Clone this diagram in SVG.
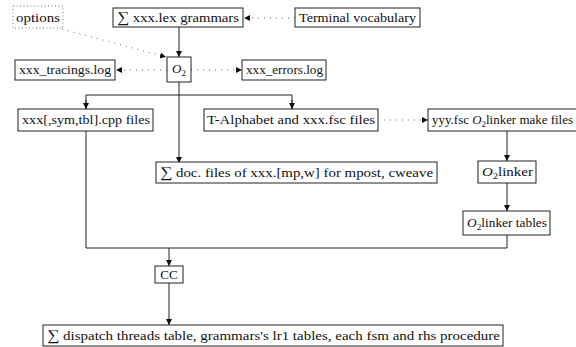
<svg xmlns="http://www.w3.org/2000/svg" width="576" height="347" viewBox="0 0 576 347" font-family="'Liberation Serif', 'DejaVu Serif', 'Noto Serif', Times, serif">
<style>
  text { font-family: 'Liberation Serif', 'DejaVu Serif', 'Noto Serif', Times, serif; font-size: 13px; fill: #111; }
  .box { fill: #fff; stroke: #222; stroke-width: 1; }
  .dbox { fill: none; stroke: #777; stroke-width: 1; stroke-dasharray: 1 2.5; }
  .line { fill: none; stroke: #222; stroke-width: 1; }
  .dot { fill: none; stroke: #666; stroke-width: 1; stroke-dasharray: 1 5; }
  .sig { font-size: 15px; }
</style>
<defs>
  <marker id="ah" viewBox="0 0 6 6" refX="6" refY="3" markerWidth="6" markerHeight="6" markerUnits="userSpaceOnUse" orient="auto">
    <path d="M0,0 L6,3 L0,6 z" fill="#111"/>
  </marker>
</defs>
<rect width="576" height="347" fill="#fff"/>
<g id="connectors">
  <line class="line" x1="179" y1="27" x2="179" y2="57" marker-end="url(#ah)"/>
  <line class="dot" x1="295" y1="18" x2="244" y2="18" marker-end="url(#ah)"/>
  <line class="dot" x1="62" y1="29" x2="166" y2="57" marker-end="url(#ah)"/>
  <line class="dot" x1="167" y1="70" x2="116" y2="70" marker-end="url(#ah)"/>
  <line class="dot" x1="191" y1="70" x2="242" y2="70" marker-end="url(#ah)"/>
  <line class="line" x1="179" y1="82" x2="179" y2="163" marker-end="url(#ah)"/>
  <polyline class="line" points="86,109 86,95 292,95 292,109"/>
  <line class="line" x1="86" y1="100" x2="86" y2="109" marker-end="url(#ah)"/>
  <line class="line" x1="292" y1="100" x2="292" y2="109" marker-end="url(#ah)"/>
  <line class="dot" x1="378" y1="120" x2="428" y2="120" marker-end="url(#ah)"/>
  <line class="line" x1="507" y1="131" x2="507" y2="161" marker-end="url(#ah)"/>
  <line class="line" x1="507" y1="183" x2="507" y2="211" marker-end="url(#ah)"/>
  <polyline class="line" points="86,131 86,248 507,248 507,235"/>
  <line class="line" x1="169" y1="248" x2="169" y2="266" marker-end="url(#ah)"/>
  <line class="line" x1="169" y1="283" x2="169" y2="325" marker-end="url(#ah)"/>
</g>
<g id="options">
  <rect class="dbox" x="13" y="6" width="50" height="22"/>
  <text x="38" y="22" text-anchor="middle" textLength="44" lengthAdjust="spacingAndGlyphs">options</text>
</g>
<g id="grammars">
  <rect class="box" x="113" y="8" width="130" height="19"/>
  <text x="117" y="22" textLength="122" lengthAdjust="spacingAndGlyphs"><tspan class="sig">∑</tspan> xxx.lex grammars</text>
</g>
<g id="terminal">
  <rect class="box" x="295" y="8" width="125" height="19"/>
  <text x="299" y="22" textLength="117" lengthAdjust="spacingAndGlyphs">Terminal vocabulary</text>
</g>
<g id="o2">
  <rect class="box" x="167" y="57" width="24" height="25"/>
  <text x="172" y="73"><tspan font-style="italic">O</tspan><tspan font-size="9" dy="3">2</tspan></text>
</g>
<g id="tracings">
  <rect class="box" x="15" y="60" width="100" height="20"/>
  <text x="19" y="74" textLength="92" lengthAdjust="spacingAndGlyphs">xxx_tracings.log</text>
</g>
<g id="errors">
  <rect class="box" x="242" y="60" width="84" height="20"/>
  <text x="246" y="74" textLength="77" lengthAdjust="spacingAndGlyphs">xxx_errors.log</text>
</g>
<g id="cpp">
  <rect class="box" x="18" y="109" width="135" height="22"/>
  <text x="22" y="124" textLength="128" lengthAdjust="spacingAndGlyphs">xxx[,sym,tbl].cpp files</text>
</g>
<g id="talphabet">
  <rect class="box" x="204" y="109" width="174" height="22"/>
  <text x="207" y="124" textLength="168" lengthAdjust="spacingAndGlyphs">T-Alphabet and xxx.fsc files</text>
</g>
<g id="yyyfsc">
  <rect class="box" x="428" y="109" width="160" height="22"/>
  <text x="432" y="124" textLength="141" lengthAdjust="spacingAndGlyphs">yyy.fsc <tspan font-style="italic">O</tspan><tspan font-size="9" dy="3">2</tspan><tspan dy="-3">linker make files</tspan></text>
</g>
<g id="docfiles">
  <rect class="box" x="156" y="162" width="281" height="21"/>
  <text x="160" y="177" textLength="273" lengthAdjust="spacingAndGlyphs"><tspan class="sig">∑</tspan> doc. files of xxx.[mp,w] for mpost, cweave</text>
</g>
<g id="o2linker">
  <rect class="box" x="478" y="161" width="58" height="22"/>
  <text x="482" y="176" textLength="51" lengthAdjust="spacingAndGlyphs"><tspan font-style="italic">O</tspan><tspan font-size="9" dy="3">2</tspan><tspan dy="-3">linker</tspan></text>
</g>
<g id="o2linkertables">
  <rect class="box" x="463" y="211" width="87" height="24"/>
  <text x="467" y="227" textLength="80" lengthAdjust="spacingAndGlyphs"><tspan font-style="italic">O</tspan><tspan font-size="9" dy="3">2</tspan><tspan dy="-3">linker tables</tspan></text>
</g>
<g id="cc">
  <rect class="box" x="155" y="266" width="28" height="17"/>
  <text x="169" y="279" text-anchor="middle">CC</text>
</g>
<g id="dispatch">
  <rect class="box" x="43" y="325" width="460" height="21"/>
  <text x="47" y="340" textLength="453" lengthAdjust="spacingAndGlyphs"><tspan class="sig">∑</tspan> dispatch threads table, grammars's lr1 tables, each fsm and rhs procedure</text>
</g>
</svg>
